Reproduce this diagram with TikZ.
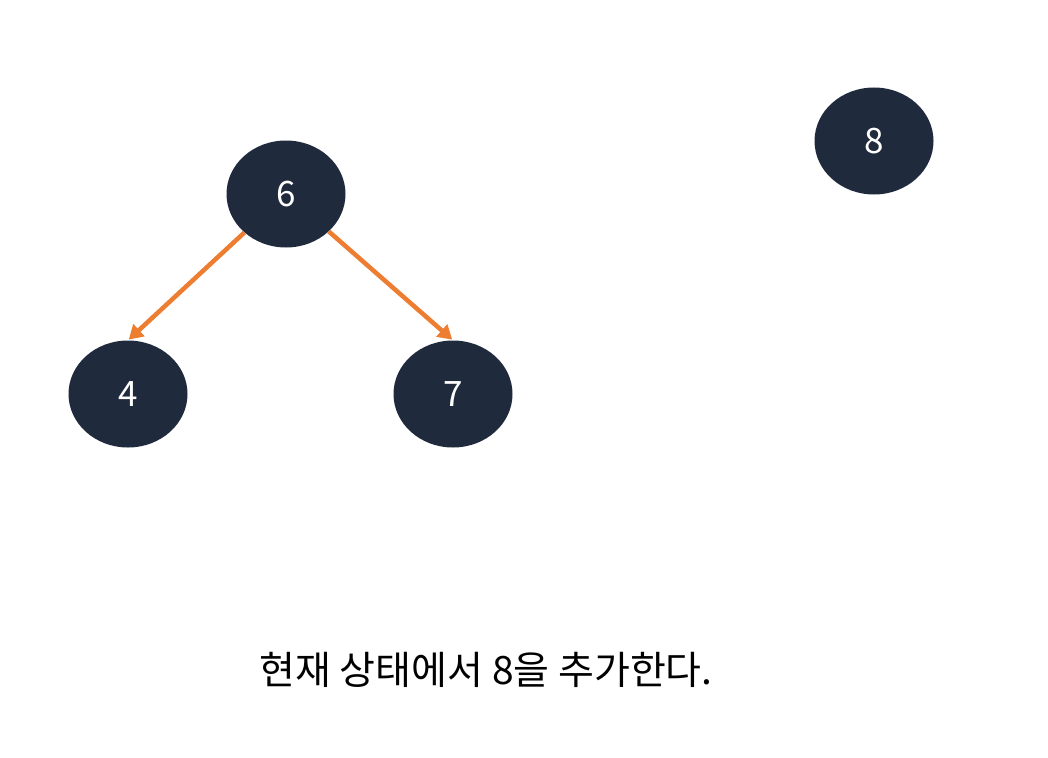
\documentclass[tikz,border=0pt]{standalone}
\usepackage{fontspec}
\setmainfont{Noto Sans CJK KR}
\usetikzlibrary{arrows.meta,shapes.geometric}
\definecolor{nodefill}{HTML}{1F2A3D}
\definecolor{edgeor}{HTML}{ED7D31}
\tikzset{
  treenode/.style={ellipse, fill=nodefill, draw=none, minimum width=119pt, minimum height=107pt, inner sep=0pt, text=white, font=\fontsize{35}{40}\selectfont},
  treeedge/.style={draw=edgeor, line width=4.5pt, -{Triangle[length=14pt,width=16pt]}, shorten >=1pt}
}
\begin{document}
\begin{tikzpicture}[x=1pt,y=-1pt]
\useasboundingbox (0,0) rectangle (1048,757);
\fill[white] (0,0) rectangle (1048,757);
\node[treenode] (six) at (286,194) {6};
\node[treenode] (four) at (128,394) {4};
\node[treenode] (seven) at (453,394) {7};
\node[treenode] (eight) at (874,141) {8};
\draw[treeedge] (six) -- (four.north);
\draw[treeedge] (six) -- (seven.north);
\node[font=\fontsize{39}{44}\selectfont, anchor=center] (caption) at (486,670) {현재 상태에서 8을 추가한다.};
\end{tikzpicture}
\end{document}
